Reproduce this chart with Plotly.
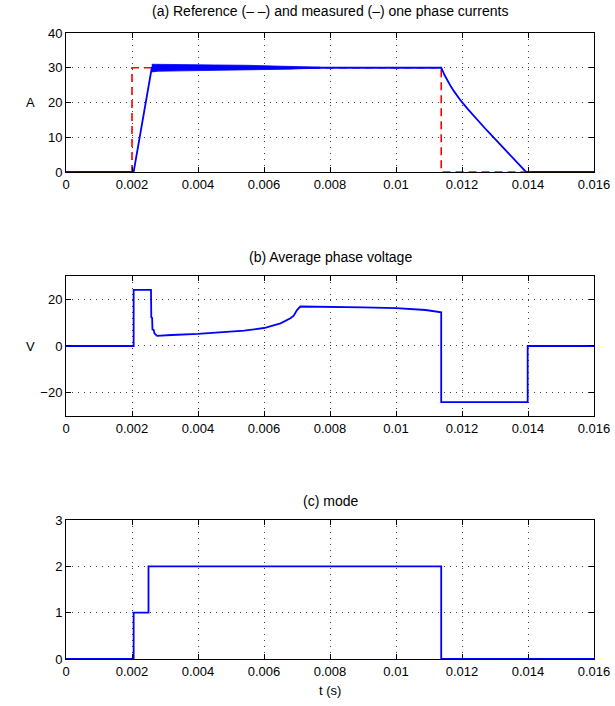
import plotly.graph_objects as go

# ---- data ----
# (a) phase currents
ref_t = [0, 0.002, 0.002, 0.01137, 0.01137, 0.016]
ref_i = [0, 0, 30, 30, 0, 0]

meas_t = [0, 0.00205, 0.0026, 0.0075, 0.01137, 0.01147, 0.01157, 0.01167,
          0.01177, 0.01187, 0.01197, 0.01217, 0.01237, 0.01257, 0.01277,
          0.01297, 0.01317, 0.01337, 0.01357, 0.01377, 0.01394, 0.016]
meas_i = [0, 0, 30, 30, 30, 27.9, 26.1, 24.5, 23.05, 21.7, 20.45, 18.15,
          15.95, 13.85, 11.8, 9.8, 7.8, 5.8, 3.8, 1.8, 0, 0]

ripple_t = [0.0026, 0.0028, 0.0035, 0.0045, 0.0055, 0.0062, 0.0068, 0.0072, 0.0077]
ripple_hi = [31.0, 31.0, 30.9, 30.8, 30.7, 30.55, 30.45, 30.3, 30.15]
ripple_lo = [28.8, 29.0, 29.1, 29.2, 29.35, 29.5, 29.6, 29.75, 29.85]

# (b) average phase voltage
volt_t = [0, 0.00205, 0.00205, 0.002575, 0.002585, 0.00261, 0.00262, 0.00266,
          0.00268, 0.00276, 0.0032, 0.004, 0.0054, 0.006, 0.0065, 0.0068,
          0.0069, 0.007, 0.0071, 0.008, 0.009, 0.010, 0.0109, 0.01137,
          0.01137, 0.01399, 0.01399, 0.016]
volt_v = [0, 0, 24, 24, 12.3, 12.0, 7.1, 6.8, 5.4, 4.3, 4.7, 5.2, 6.6, 7.7,
          9.7, 11.9, 13.0, 15.4, 16.9, 16.8, 16.5, 16.2, 15.4, 14.4,
          -24, -24, 0, 0]

# (c) mode
mode_t = [0, 0.00205, 0.0025, 0.01137, 0.016]
mode_v = [0, 1, 2, 0, 0]

x_ticks = [0, 0.002, 0.004, 0.006, 0.008, 0.01, 0.012, 0.014, 0.016]
x_ticktext = ["0", "0.002", "0.004", "0.006", "0.008", "0.01", "0.012", "0.014", "0.016"]

titles = ["(a) Reference (\u2013 \u2013) and measured (\u2013) one phase currents",
          "(b) Average phase voltage",
          "(c) mode"]

# ---- figure ----
FONT = "Liberation Sans, Arial, sans-serif"
BLUE = "#0000ff"
RED = "#ff0000"

fig = go.Figure()

fig.add_trace(go.Scatter(x=ref_t, y=ref_i, mode="lines",
                         line=dict(color=RED, width=1.6, dash="8px,5px"),
                         xaxis="x", yaxis="y", showlegend=False))
fig.add_trace(go.Scatter(x=ripple_t, y=ripple_lo, mode="lines",
                         line=dict(color=BLUE, width=0.8),
                         xaxis="x", yaxis="y", showlegend=False))
fig.add_trace(go.Scatter(x=ripple_t, y=ripple_hi, mode="lines", fill="tonexty",
                         fillcolor=BLUE, line=dict(color=BLUE, width=0.8),
                         xaxis="x", yaxis="y", showlegend=False))
fig.add_trace(go.Scatter(x=meas_t, y=meas_i, mode="lines",
                         line=dict(color=BLUE, width=1.8),
                         xaxis="x", yaxis="y", showlegend=False))

fig.add_trace(go.Scatter(x=volt_t, y=volt_v, mode="lines",
                         line=dict(color=BLUE, width=1.8),
                         xaxis="x2", yaxis="y2", showlegend=False))

fig.add_trace(go.Scatter(x=mode_t, y=mode_v, mode="lines", line_shape="hv",
                         line=dict(color=BLUE, width=1.8),
                         xaxis="x3", yaxis="y3", showlegend=False))

common = dict(showline=True, linecolor="black", linewidth=1, mirror="ticks",
              ticks="inside", ticklen=5, tickcolor="black", tickwidth=1,
              showgrid=True, gridcolor="rgba(0,0,0,0.75)", gridwidth=1,
              griddash="1px,5px", zeroline=False, ticklabeloverflow="allow",
              automargin=False,
              tickfont=dict(family=FONT, size=13, color="black"))

xcommon = dict(common, range=[0, 0.016], tickvals=x_ticks, ticktext=x_ticktext)

doms = [[0.778, 1.0], [0.388, 0.612], [0.0, 0.222]]
title_shift = [12, 9, 9]

fig.update_layout(
    width=615, height=706,
    margin=dict(l=66, r=21, t=33, b=47, autoexpand=False),
    paper_bgcolor="white", plot_bgcolor="white",
    font=dict(family=FONT, size=13, color="black"),
    showlegend=False,
    xaxis=dict(xcommon, domain=[0, 1], anchor="y"),
    yaxis=dict(common, domain=doms[0], anchor="x", range=[0, 40],
               tickvals=[0, 10, 20, 30, 40]),
    xaxis2=dict(xcommon, domain=[0, 1], anchor="y2"),
    yaxis2=dict(common, domain=doms[1], anchor="x2", range=[-30, 30],
                tickvals=[-20, 0, 20], ticktext=["\u221220", "0", "20"]),
    xaxis3=dict(xcommon, domain=[0, 1], anchor="y3"),
    yaxis3=dict(common, domain=doms[2], anchor="x3", range=[0, 3],
                tickvals=[0, 1, 2, 3]),
)

annots = []
for d, t, s in zip(doms, titles, title_shift):
    annots.append(dict(text=t, xref="paper", yref="paper", x=0.5, y=d[1],
                       xanchor="center", yanchor="bottom", yshift=s,
                       showarrow=False, font=dict(family=FONT, size=14)))
annots.append(dict(text="A", xref="paper", yref="paper", x=0, y=sum(doms[0]) / 2,
                   xanchor="center", yanchor="middle", xshift=-36,
                   showarrow=False, font=dict(family=FONT, size=13)))
annots.append(dict(text="V", xref="paper", yref="paper", x=0, y=sum(doms[1]) / 2,
                   xanchor="center", yanchor="middle", xshift=-36,
                   showarrow=False, font=dict(family=FONT, size=13)))
annots.append(dict(text="t (s)", xref="paper", yref="paper", x=0.5, y=0,
                   xanchor="center", yanchor="top", yshift=-22,
                   showarrow=False, font=dict(family=FONT, size=13)))
fig.update_layout(annotations=annots)

# remove the default 8px page margin so the 615x706 figure fills the window
fig.write_html("out.html",
               config={"displayModeBar": False},
               post_script="document.body.style.margin='0';"
                           "document.body.style.overflow='hidden';")
